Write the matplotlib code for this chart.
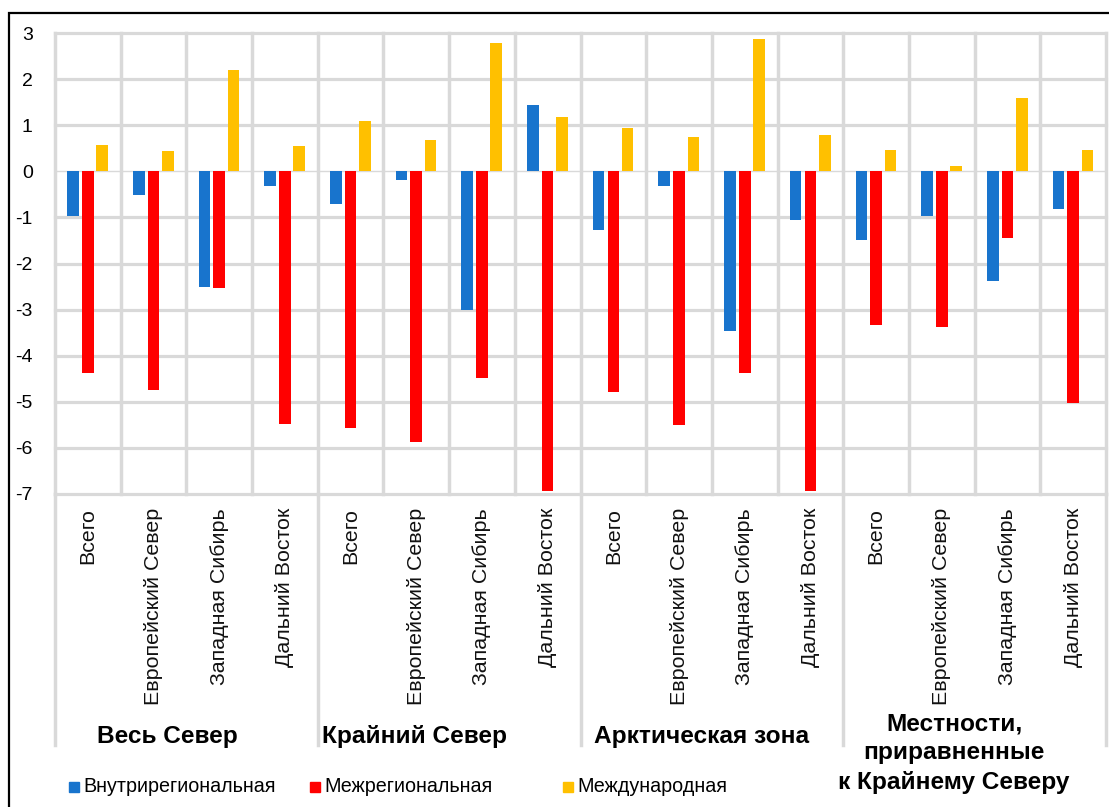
import matplotlib
matplotlib.use("Agg")
import matplotlib.pyplot as plt
from matplotlib.patches import Rectangle
import numpy as np

plt.rcParams['font.family'] = ['Liberation Sans', 'DejaVu Sans']

groups = ["Весь Север", "Крайний Север", "Арктическая зона",
          "Местности,\nприравненные\nк Крайнему Северу"]
subcats = ["Всего", "Европейский Север", "Западная Сибирь", "Дальний Восток"]
series_names = ["Внутрирегиональная", "Межрегиональная", "Международная"]
colors = ["#1874CD", "#FF0000", "#FFC000"]

intra = [-0.98, -0.52, -2.52, -0.31,
         -0.70, -0.18, -3.00, 1.44,
         -1.27, -0.31, -3.46, -1.05,
         -1.50, -0.96, -2.38, -0.82]
inter = [-4.38, -4.75, -2.53, -5.48,
         -5.56, -5.88, -4.48, -6.94,
         -4.78, -5.51, -4.38, -6.94,
         -3.33, -3.38, -1.44, -5.03]
intl = [0.58, 0.43, 2.19, 0.54,
        1.10, 0.67, 2.78, 1.17,
        0.93, 0.75, 2.86, 0.78,
        0.47, 0.12, 1.60, 0.47]
yticks = [3, 2, 1, 0, -1, -2, -3, -4, -5, -6, -7]

W, H = 1109, 807
fig = plt.figure(figsize=(W / 100, H / 100), dpi=100)
ax_l, ax_r, ax_t, ax_b = 55, 1106, 33, 494
ax = fig.add_axes([ax_l / W, 1 - ax_b / H, (ax_r - ax_l) / W, (ax_b - ax_t) / H])

n = len(intra)
x = np.arange(n) + 0.5
bw = 0.177
offsets = [-0.225, 0.0, 0.218]
for vals, off, c in zip([intra, inter, intl], offsets, colors):
    ax.bar(x + off, vals, width=bw, color=c, zorder=3, linewidth=0)

ax.set_xlim(0, n)
ax.set_ylim(-7, 3)
grid_c = "#d9d9d9"
for yv in yticks:
    if yv == 0:
        ax.axhline(yv, color=grid_c, lw=1.0, zorder=1, clip_on=False)
    else:
        ax.axhline(yv, color=grid_c, lw=2.3, zorder=1, clip_on=False)
for xv in range(n + 1):
    ax.axvline(xv, color=grid_c, lw=2.5, zorder=1, clip_on=False)

for s in ax.spines.values():
    s.set_visible(False)

ax.set_yticks(yticks)
ax.set_yticklabels([str(v) for v in yticks], fontsize=14, color="#000000")
ax.set_xticks(x)
ax.set_xticklabels(subcats * 4, rotation=90, fontsize=15.4, color="#111111", va="top", ha="center")
ax.tick_params(axis="both", length=0)
ax.tick_params(axis="y", pad=16)
ax.tick_params(axis="x", pad=10)

# group separators in label area
units_per_px = 10 / (ax_b - ax_t)
y_low = -7 - (745 - ax_b) * units_per_px
for gx in range(0, n + 1, 4):
    ax.plot([gx, gx], [-7, y_low], color=grid_c, lw=2.5, clip_on=False, zorder=1)

# group labels
label_x = [167, 415, 702, 954]
for g, lx in zip(groups, label_x):
    if "\n" in g:
        fig.text(lx / W, 1 - 753 / H, g, ha="center", va="center", fontsize=17.6,
                 fontweight="bold", linespacing=1.35)
    else:
        fig.text(lx / W, 1 - 737 / H, g, ha="center", va="center", fontsize=17.6,
                 fontweight="bold")

# legend
leg_sq = [69, 310, 563]
for sx, name, c in zip(leg_sq, series_names, colors):
    fig.patches.append(Rectangle((sx / W, 1 - 792 / H), 10 / W, 10 / H,
                                 transform=fig.transFigure, color=c, figure=fig))
    fig.text((sx + 14) / W, 1 - 787 / H, name, ha="left", va="center", fontsize=14.2)

# outer frame
fig.patches.append(Rectangle((9 / W, -0.1), 1.2, 1.1 - 13 / H, transform=fig.transFigure,
                             fill=False, edgecolor="black", lw=1.6, figure=fig))

fig.savefig("out.png", dpi=100)
